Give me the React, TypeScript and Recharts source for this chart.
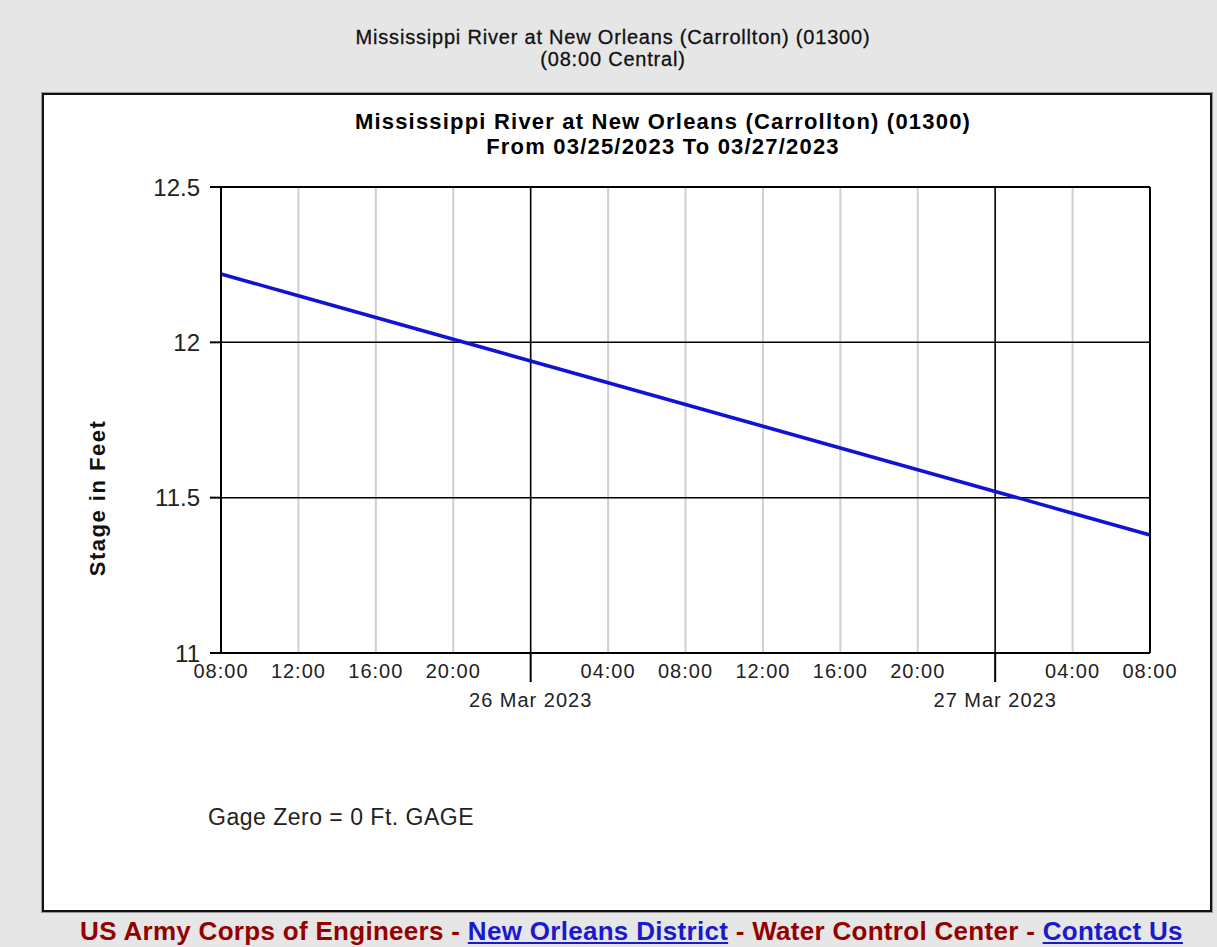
import React from 'react';
import {
  LineChart,
  Line,
  XAxis,
  YAxis,
  CartesianGrid,
  ReferenceLine,
} from 'recharts';

// hours since 03/25/2023 08:00 Central
const hours = [0, 4, 8, 12, 16, 20, 24, 28, 32, 36, 40, 44, 48];
const stageFeet = [12.22, 12.15, 12.08, 12.01, 11.94, 11.87, 11.8, 11.73, 11.66, 11.59, 11.52, 11.45, 11.38];

const timeLabels = ['08:00', '12:00', '16:00', '20:00', '', '04:00', '08:00', '12:00', '16:00', '20:00', '', '04:00', '08:00'];
const midnightHours = [16, 40];
const dateLabels = ['26 Mar 2023', '27 Mar 2023'];
const stageTicks = [11, 11.5, 12, 12.5];

const pageTitle = ['Mississippi River at New Orleans (Carrollton) (01300)', '(08:00 Central)'];
const chartTitle = ['Mississippi River at New Orleans (Carrollton) (01300)', 'From 03/25/2023 To 03/27/2023'];

const data = hours.map((h, i) => ({ hour: h, stage: stageFeet[i] }));

const FONT = '"Liberation Sans", Arial, sans-serif';

function TimeTick(props: any) {
  const { x, y, payload } = props;
  const i = hours.indexOf(payload.value);
  const m = midnightHours.indexOf(payload.value);
  return (
    <g>
      {timeLabels[i] ? (
        <text x={x} y={y + 25} textAnchor="middle" fontSize={20} letterSpacing={1} fill="#222" fontFamily={FONT}>
          {timeLabels[i]}
        </text>
      ) : null}
      {m >= 0 ? (
        <g>
          <line x1={x} x2={x} y1={y} y2={y + 29} stroke="#000" strokeWidth={2} />
          <text x={x} y={y + 54} textAnchor="middle" fontSize={20} letterSpacing={1} fill="#222" fontFamily={FONT}>
            {dateLabels[m]}
          </text>
        </g>
      ) : null}
    </g>
  );
}

export default function App() {
  return (
    <div
      style={{
        position: 'absolute',
        left: 0,
        top: 0,
        width: 1217,
        height: 947,
        background: '#e6e6e6',
        fontFamily: FONT,
        overflow: 'hidden',
      }}
    >
      <div
        style={{
          position: 'absolute',
          left: 163,
          top: 26,
          width: 900,
          textAlign: 'center',
          fontSize: 20,
          letterSpacing: 0.8,
          lineHeight: '22px',
          color: '#111',
          WebkitTextStroke: '0.3px #111',
        }}
      >
        {pageTitle.map((t) => (
          <div key={t}>{t}</div>
        ))}
      </div>

      <div
        style={{
          position: 'absolute',
          left: 42,
          top: 93,
          width: 1170,
          height: 819,
          boxSizing: 'border-box',
          border: '2px solid #111',
          boxShadow: '0 0 0 1px #9a9a9a',
          background: '#fff',
        }}
      >
        <LineChart
          width={1166}
          height={815}
          data={data}
          margin={{ top: 92, right: 60, bottom: 197, left: 117 }}
        >
          <CartesianGrid horizontal={false} stroke="#cfcfcf" strokeWidth={2} />
          <CartesianGrid vertical={false} stroke="#000" strokeWidth={1.5} />
          <XAxis
            dataKey="hour"
            type="number"
            domain={[0, 48]}
            ticks={hours}
            tickSize={0}
            tickMargin={0}
            tickLine={false}
            axisLine={{ stroke: '#000', strokeWidth: 2 }}
            tick={<TimeTick />}
            height={60}
            interval={0}
          />
          <YAxis
            type="number"
            domain={[11, 12.5]}
            ticks={stageTicks}
            width={60}
            tickSize={11}
            tickMargin={10}
            tickLine={{ stroke: '#000', strokeWidth: 2 }}
            axisLine={{ stroke: '#000', strokeWidth: 2 }}
            tick={{ fontSize: 24, fill: '#222', fontFamily: FONT }}
            interval={0}
          />
          {midnightHours.map((h) => (
            <ReferenceLine key={h} x={h} stroke="#000" strokeWidth={1.5} />
          ))}
          <ReferenceLine x={48} stroke="#000" strokeWidth={2} />
          <ReferenceLine y={12.5} stroke="#000" strokeWidth={2} />
          <Line
            type="linear"
            dataKey="stage"
            stroke="#1212d6"
            strokeWidth={3.5}
            dot={false}
            isAnimationActive={false}
          />
        </LineChart>
      </div>

      <div
        style={{
          position: 'absolute',
          left: 263,
          top: 109,
          width: 800,
          textAlign: 'center',
          fontSize: 22,
          letterSpacing: 1.2,
          fontWeight: 'bold',
          lineHeight: '25px',
          color: '#000',
        }}
      >
        {chartTitle.map((t) => (
          <div key={t}>{t}</div>
        ))}
      </div>

      <div
        style={{
          position: 'absolute',
          left: 98,
          top: 498,
          transform: 'translate(-50%, -50%) rotate(-90deg)',
          whiteSpace: 'nowrap',
          fontSize: 22,
          fontWeight: 'bold',
          letterSpacing: 1.5,
          color: '#111',
        }}
      >
        Stage in Feet
      </div>

      <div style={{ position: 'absolute', left: 208, top: 804, fontSize: 23, letterSpacing: 0.5, color: '#222', whiteSpace: 'nowrap' }}>
        Gage Zero = 0 Ft. GAGE
      </div>

      <div
        style={{
          position: 'absolute',
          left: 0,
          width: 1263,
          top: 916,
          textAlign: 'center',
          fontSize: 26,
          letterSpacing: 0.3,
          fontWeight: 'bold',
          color: '#930000',
          whiteSpace: 'nowrap',
        }}
      >
        US Army Corps of Engineers -{' '}
        <span style={{ color: '#1a1acc', textDecoration: 'underline' }}>New Orleans District</span> - Water Control Center -{' '}
        <span style={{ color: '#1a1acc', textDecoration: 'underline' }}>Contact Us</span>
      </div>
    </div>
  );
}
